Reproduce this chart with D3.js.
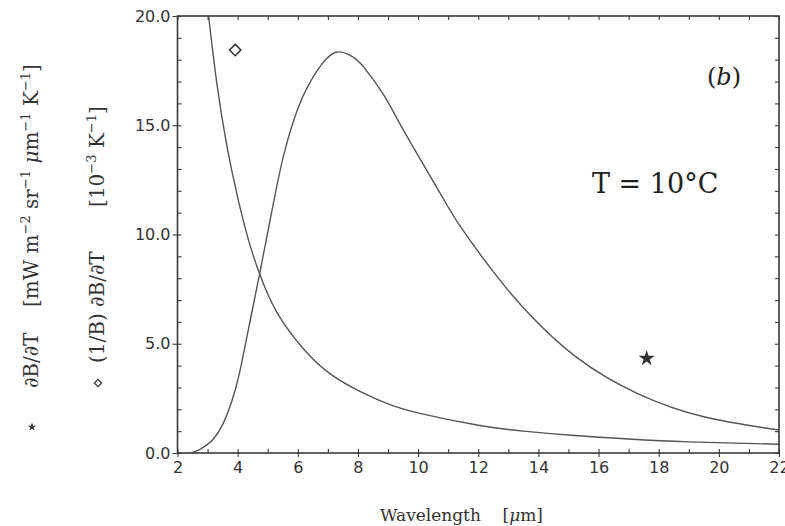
<!DOCTYPE html>
<html>
<head>
<meta charset="utf-8">
<script src="https://cdn.jsdelivr.net/npm/d3@7"></script>
<style>
  html, body { margin: 0; padding: 0; background: #fff; }
  svg { display: block; }
</style>
</head>
<body>
<svg id="chart" width="785" height="526"></svg>
<script>
// ---------------- data ----------------
// (1/B) dB/dT  (diamond series) — wavelength [µm] and value
const lambdaRel = [2.95, 3.3, 3.65, 4.0, 4.35, 4.73, 5.3, 6.2, 7.1, 8.1, 9.0, 10.1, 12.0, 13.5, 15.2, 17.0, 19.0, 22.0];
const valuesRel = [21.0, 17.0, 14.0, 11.7, 9.8, 8.2, 6.45, 4.75, 3.6, 2.8, 2.25, 1.8, 1.27, 1.0, 0.80, 0.64, 0.51, 0.40];
// dB/dT (star series)
const lambdaAbs = [2.45, 2.75, 3.0, 3.2, 3.5, 3.8, 4.05, 4.4, 4.73, 5.0, 5.3, 5.6, 6.0, 6.36, 6.8, 7.3, 7.8, 8.2, 8.85, 9.4, 10.1, 10.75, 11.4, 12.5, 13.6, 15.25, 17.3, 19.5, 22.0];
const valuesAbs = [0, 0.17, 0.4, 0.65, 1.3, 2.35, 3.6, 5.95, 8.2, 10.1, 12.2, 14.0, 15.75, 16.85, 17.8, 18.35, 18.15, 17.65, 16.4, 15.05, 13.38, 11.85, 10.38, 8.3, 6.5, 4.4, 2.72, 1.66, 1.05];
// marker positions identifying the series
const diamondMarker = [3.92, 18.44];
const starMarker = [17.6, 4.33];
// ticks
const xMinorTicks = d3.range(2, 23, 1);
const xMajorTicks = d3.range(2, 23, 2);
const yMinorTicks = d3.range(0, 21, 1);
const yMajorTicks = [0, 5, 10, 15, 20];
const xDomain = [2, 22];
const yDomain = [0, 20];
// texts
const xTitle = "Wavelength";
const xUnit = "μm";
const tempLabel = "T = 10°C";
const panelLabel = "(b)";
const yTitleAbs = [["∂B/∂T", 0], ["\u00a0\u00a0\u00a0\u00a0[mW m", 0], ["−2", 1], ["\u00a0sr", 0], ["−1", 1], ["\u00a0", 0], ["μ", 2], ["m", 0], ["−1", 1], ["\u00a0K", 0], ["−1", 1], ["]", 0]];
const yTitleRel = [["(1/B) ∂B/∂T", 0], ["\u00a0\u00a0\u00a0\u00a0\u00a0\u00a0\u00a0[10", 0], ["−3", 1], ["\u00a0K", 0], ["−1", 1], ["]", 0]];

// ---------------- layout ----------------
const svg = d3.select("#chart");
const L = 177.5, R = 779, T = 16, B = 453;
const x = d3.scaleLinear().domain(xDomain).range([L, R]);
const y = d3.scaleLinear().domain(yDomain).range([B, T]);
const axisColor = "#3a3a3a";
const curveColor = "#555";
const tickFont = "'DejaVu Sans', sans-serif";
const serif = "'DejaVu Serif', 'Liberation Serif', serif";

svg.append("defs").append("clipPath").attr("id", "plotclip")
  .append("rect").attr("x", L).attr("y", T).attr("width", R - L).attr("height", B - T);

// curves
const line = d3.line().x(d => x(d[0])).y(d => y(d[1])).curve(d3.curveNatural);
const g = svg.append("g").attr("clip-path", "url(#plotclip)");
g.append("path").datum(d3.zip(lambdaRel, valuesRel)).attr("d", line)
  .attr("fill", "none").attr("stroke", curveColor).attr("stroke-width", 1.4);
g.append("path").datum(d3.zip(lambdaAbs, valuesAbs)).attr("d", line)
  .attr("fill", "none").attr("stroke", curveColor).attr("stroke-width", 1.4);

// axes
function styleAxis(sel) {
  sel.select(".domain").remove();
  sel.selectAll("line").attr("stroke", axisColor).attr("stroke-width", 1.1);
  sel.selectAll("text").attr("fill", "#333").style("font-family", tickFont).style("font-size", "16px");
}
// bottom: inward minor ticks + labels on even numbers
svg.append("g").attr("transform", `translate(0,${B})`)
  .call(d3.axisBottom(x).tickValues(xMinorTicks).tickSize(-4).tickPadding(9)
    .tickFormat(d => (d % 2 === 0 ? d : "")))
  .call(styleAxis);
svg.append("g").attr("transform", `translate(0,${B})`)
  .call(d3.axisBottom(x).tickValues(xMajorTicks).tickSize(4).tickFormat(""))
  .call(styleAxis);
// top: inward ticks
svg.append("g").attr("transform", `translate(0,${T})`)
  .call(d3.axisTop(x).tickValues(xMinorTicks).tickSize(-4).tickFormat(""))
  .call(styleAxis);
// left
svg.append("g").attr("transform", `translate(${L},0)`)
  .call(d3.axisLeft(y).tickValues(yMinorTicks).tickSize(-4).tickPadding(7)
    .tickFormat(d => (d % 5 === 0 ? d3.format(".1f")(d) : "")))
  .call(styleAxis);
svg.append("g").attr("transform", `translate(${L},0)`)
  .call(d3.axisLeft(y).tickValues(yMajorTicks).tickSize(5).tickFormat(""))
  .call(styleAxis);
// right: inward ticks
svg.append("g").attr("transform", `translate(${R},0)`)
  .call(d3.axisRight(y).tickValues(yMinorTicks).tickSize(-4).tickFormat(""))
  .call(styleAxis);

// frame
svg.append("rect").attr("x", L).attr("y", T).attr("width", R - L).attr("height", B - T)
  .attr("fill", "none").attr("stroke", axisColor).attr("stroke-width", 1.6);

// markers in plot
const squareSym = d3.symbol().type(d3.symbolSquare);
svg.append("path").attr("d", squareSym.size(64)())
  .attr("transform", `translate(${x(diamondMarker[0])},${y(diamondMarker[1])}) rotate(45)`)
  .attr("fill", "none").attr("stroke", "#333").attr("stroke-width", 1.5);
svg.append("path").attr("d", d3.symbol().type(d3.symbolStar).size(80)())
  .attr("transform", `translate(${x(starMarker[0])},${y(starMarker[1])})`)
  .attr("fill", "#333");

// annotations
const pl = svg.append("text").attr("x", 741).attr("y", 85).attr("text-anchor", "end")
  .style("font-family", serif).style("font-size", "24px").attr("fill", "#222");
pl.append("tspan").text(panelLabel.slice(0, 1));
pl.append("tspan").style("font-style", "italic").text(panelLabel.slice(1, 2));
pl.append("tspan").text(panelLabel.slice(2));
svg.append("text").attr("x", 592).attr("y", 193)
  .style("font-family", serif).style("font-size", "27px")
  .attr("fill", "#222").text(tempLabel);

// x title
const xt = svg.append("text").attr("x", 380).attr("y", 521)
  .style("font-family", serif).style("font-size", "17px").attr("fill", "#333");
xt.append("tspan").text(xTitle + "\u00a0\u00a0\u00a0\u00a0[");
xt.append("tspan").style("font-style", "italic").text(xUnit.slice(0, 1));
xt.append("tspan").text(xUnit.slice(1) + "]");

// rotated y titles
function rotTitle(px, py, parts) {
  const t = svg.append("text").attr("transform", `translate(${px},${py}) rotate(-90)`)
    .style("font-family", serif).style("font-size", "20px").attr("fill", "#333");
  let up = false;
  parts.forEach(([s, kind]) => {
    const sp = t.append("tspan").text(s);
    if (kind === 1) {
      sp.style("font-size", "13px").attr("dy", up ? 0 : -8);
      up = true;
    } else {
      if (up) sp.attr("dy", 8);
      up = false;
      if (kind === 2) sp.style("font-style", "italic");
    }
  });
  return t;
}
rotTitle(38, 388, yTitleAbs);
rotTitle(104, 363, yTitleRel);

// legend glyphs next to y titles
svg.append("path").attr("d", d3.symbol().type(d3.symbolStar).size(22)())
  .attr("transform", `translate(32,427)`).attr("fill", "#333");
svg.append("path").attr("d", squareSym.size(26)())
  .attr("transform", `translate(98,383) rotate(45)`)
  .attr("fill", "none").attr("stroke", "#333").attr("stroke-width", 1.2);
</script>
</body>
</html>
